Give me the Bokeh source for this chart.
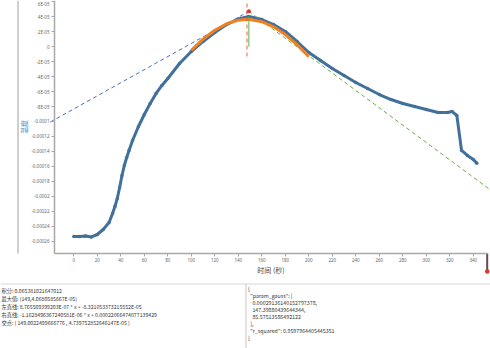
from bokeh.plotting import figure
from bokeh.models import Range1d, FixedTicker, CustomJSTickFormatter, ColumnDataSource
from bokeh.core.properties import value
from bokeh.embed import file_html
from bokeh.resources import INLINE

# ---------------- data ----------------
time_s = [0, 5, 10, 15, 20, 25, 30, 33, 35, 37, 39, 41, 43, 45, 47, 50, 55, 60, 65, 70,
          75, 80, 90, 100, 110, 120, 130, 140, 149, 160, 170, 180, 190, 200, 210, 220,
          230, 240, 250, 260, 270, 280, 290, 300, 310, 318, 322, 326, 330, 335, 340, 343]
temp = [-0.0002540, -0.0002540, -0.0002533, -0.0002546, -0.0002513, -0.0002446, -0.0002352,
        -0.0002232, -0.0002138, -0.0002031, -0.0001884, -0.0001723, -0.0001589, -0.0001482,
        -0.0001388, -0.0001255, -0.0001067, -0.0000907, -0.0000759, -0.0000625, -0.0000518,
        -0.0000425, -0.0000224, -0.0000063, 0.0000071, 0.0000191, 0.0000298, 0.0000372,
        0.0000407, 0.0000365, 0.0000298, 0.0000205, 0.0000071, -0.0000077, -0.0000184,
        -0.0000291, -0.0000385, -0.0000478, -0.0000559, -0.0000639, -0.0000706, -0.0000759,
        -0.0000800, -0.0000840, -0.0000880, -0.0000880, -0.0000867, -0.0000920, -0.0001388,
        -0.0001455, -0.0001509, -0.0001558]

gauss_t = [100, 110, 120, 130, 140, 147.4, 150, 160, 170, 180, 190, 200]
gauss_v = [-4.68e-6, 1.022e-5, 2.220e-5, 3.080e-5, 3.567e-5, 3.676e-5, 3.663e-5,
           3.362e-5, 2.678e-5, 1.637e-5, 2.81e-6, -1.339e-5]

left_line_t = [-20, 149.0022499666776]
left_line_v = [-1.00742e-4, 4.739752852646147e-05]
right_line_t = [149.0022499666776, 360]
right_line_v = [4.739752852646147e-05, -1.97961e-4]

peak_t = 149
peak_v = 4.0680585667e-05
cross_t = 149.0022499666776
cross_v = 4.739752852646147e-05
mu_t = 147.39880439644344
mu_line_v = [-1.3e-5, 6.2e-5]
peak_line_v = [0.0, 4.0680585667e-05]

x_ticks = list(range(0, 341, 20))
y_ticks = [6e-05, 4e-05, 2e-05, 0.0, -2e-05, -4e-05, -6e-05, -8e-05, -0.0001, -0.00012,
           -0.00014, -0.00016, -0.00018, -0.0002, -0.00022, -0.00024, -0.00026]
y_tick_labels = ["6E-05", "4E-05", "2E-05", "0", "-2E-05", "-4E-05", "-6E-05", "-8E-05",
                 "-0.0001", "-0.00012", "-0.00014", "-0.00016", "-0.00018", "-0.0002",
                 "-0.00022", "-0.00024", "-0.00026"]

info_left = [
    "积分: 0.065381021647012",
    "最大值: (149,4.0680585667E-05)",
    "左直线: 8.765509399203E-07 * x + -8.321053373215552E-05",
    "右直线: -1.1628496367240581E-06 * x + 0.00022066474077139429",
    "交点: ( 149.0022499666776 , 4.739752852646147E-05 )",
]
info_right = [
    "{",
    "\"param_gauss\": [",
    "0.00029136140152797378,",
    "147.39880439644344,",
    "85.57513586492122",
    "],",
    "\"r_squared\": 0.9597964405445351",
    "}",
]
info_right_indent = [0, 1, 2, 2, 2, 1, 1, 0]

# ---------------- page geometry (pixel -> data helpers) ----------------
W, H = 490, 348
X0_PX, PX_PER_S = 73.3, 1.175          # pixel of t=0, pixels per second
Y_REF_PX, V_PER_PX = 240.5, 2e-05 / 14.94   # pixel of -0.00026, value per pixel
V_REF = -0.00026

def tx(px):
    return (px - X0_PX) / PX_PER_S

def vy(py):
    return V_REF + (Y_REF_PX - py) * V_PER_PX

AX_LEFT, AX_RIGHT, AX_BOTTOM = 54, 487, 253

CJK = "Noto Sans CJK SC"
p = figure(width=W, height=H, output_backend="svg", toolbar_location=None,
           x_range=Range1d(tx(0), tx(W)), y_range=Range1d(vy(H), vy(0)),
           min_border=0, min_border_left=0, min_border_right=0,
           min_border_top=0, min_border_bottom=0)
p.outline_line_color = None
p.grid.visible = False
p.background_fill_color = "white"
p.border_fill_color = "white"

for ax in (p.xaxis[0], p.yaxis[0]):
    ax.axis_line_color = "#a8a8a8"
    ax.axis_line_width = 1.5
    ax.major_tick_line_color = "#a8a8a8"
    ax.major_tick_out = 3
    ax.major_tick_in = 0
    ax.minor_tick_line_color = None
    ax.major_label_text_font_size = "4.5px"
    ax.major_label_text_color = "#666666"
    ax.major_label_text_font = "Noto Sans"
    ax.axis_label_text_font = CJK
    ax.axis_label_text_font_size = "7px"
    ax.axis_label_text_font_style = "normal"

p.xaxis.fixed_location = vy(AX_BOTTOM)
p.xaxis.bounds = (tx(AX_LEFT), tx(AX_RIGHT))
p.xaxis.ticker = FixedTicker(ticks=x_ticks)
p.xaxis.axis_label = "时间 (秒)"
p.xaxis.axis_label_text_color = "#444444"
p.xaxis.major_label_standoff = 1
p.xaxis.axis_label_standoff = 0

p.yaxis.fixed_location = tx(AX_LEFT)
p.yaxis.bounds = (vy(AX_BOTTOM), vy(0))
p.yaxis.ticker = FixedTicker(ticks=y_ticks)
p.yaxis.formatter = CustomJSTickFormatter(args=dict(tvals=y_ticks, tlabels=y_tick_labels), code="""
for (let i = 0; i < tvals.length; i++) { if (Math.abs(tvals[i] - tick) < 1e-9) return tlabels[i]; }
return "" + tick;
""")
p.yaxis.axis_label = "温度"
p.yaxis.axis_label_text_color = "#4a90c8"
p.yaxis.major_label_standoff = 2
p.yaxis.axis_label_standoff = -1

# frame decorations (splitter lines, panel borders)
p.segment(x0=[tx(17.5), tx(0), tx(245.5)], y0=[vy(0), vy(283.5), vy(283.5)],
          x1=[tx(17.5), tx(W), tx(245.5)], y1=[vy(AX_BOTTOM), vy(283.5), vy(H)],
          line_color=["#a0a0a0", "#d6d6d6", "#c8c8c8"], line_width=1)

src = ColumnDataSource(dict(t=time_s, v=temp))
p.line("t", "v", source=src, line_color="#41709a", line_width=3)
p.scatter("t", "v", source=src, size=3.5, fill_color="#41709a", line_color=None)

p.line(left_line_t, left_line_v, line_color="#4a6fc0", line_width=1, line_dash="4 3")
p.line(right_line_t, right_line_v, line_color="#6aaa4a", line_width=1, line_dash="4 3")
p.line(gauss_t, gauss_v, line_color="#f08020", line_width=3)
p.line([mu_t, mu_t], mu_line_v, line_color="#f06040", line_width=1, line_dash="4 3")
p.line([peak_t, peak_t], peak_line_v, line_color="#6aaa4a", line_width=1)
p.scatter([cross_t], [cross_v], size=4, fill_color="#e03030", line_color=None)

# slider marker at right end of the time axis
p.segment(x0=[tx(486.7)], y0=[vy(AX_BOTTOM)], x1=[tx(486.7)], y1=[vy(270)],
          line_color="#6e4848", line_width=2)
p.scatter([tx(486.7)], [vy(271)], size=4.5, fill_color="#d83a2a", line_color=None)

# info panels
p.text(x=[tx(1)] * len(info_left), y=[vy(290 + 8 * i) for i in range(len(info_left))],
       text=info_left, text_font=value(CJK), text_font_size="5.2px",
       text_color="#333333", text_baseline="middle")
p.text(x=[tx(247.5 + 2.2 * k) for k in info_right_indent],
       y=[vy(288 + 7 * i) for i in range(len(info_right))],
       text=info_right, text_font=value(CJK), text_font_size="5.3px",
       text_color="#333333", text_baseline="middle")

open("out.html", "w").write(file_html(p, INLINE))
